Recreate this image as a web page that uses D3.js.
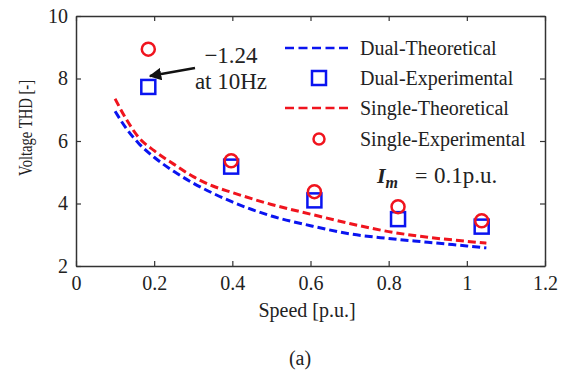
<!DOCTYPE html>
<html>
<head>
<meta charset="utf-8">
<script src="https://cdn.jsdelivr.net/npm/d3@7"></script>
<style>
  html, body { margin: 0; padding: 0; background: #fff; }
  svg { display: block; }
  text { font-family: "Liberation Serif", "Times New Roman", serif; fill: #222; }
</style>
</head>
<body>
<svg id="chart" width="569" height="371"></svg>
<script>
// ---- data ----
const xTicks = [0, 0.2, 0.4, 0.6, 0.8, 1, 1.2];
const yTicks = [2, 4, 6, 8, 10];
const speedTheory = [0.10, 0.13, 0.16, 0.2, 0.25, 0.3, 0.35, 0.4, 0.5, 0.6, 0.7, 0.8, 0.9, 1.0, 1.05];
const dualTheory = [6.95, 6.38, 5.93, 5.48, 5.03, 4.65, 4.33, 4.05, 3.60, 3.29, 3.03, 2.88, 2.76, 2.64, 2.58];
const singleTheory = [7.35, 6.67, 6.12, 5.69, 5.26, 4.86, 4.56, 4.35, 3.97, 3.66, 3.36, 3.10, 2.92, 2.79, 2.73];
const speedExp = [0.185, 0.397, 0.61, 0.824, 1.038];
const dualExp = [7.73, 5.18, 4.10, 3.50, 3.26];
const singleExp = [8.94, 5.37, 4.38, 3.90, 3.45];
const legendLabels = ["Dual-Theoretical", "Dual-Experimental", "Single-Theoretical", "Single-Experimental"];

const BLUE = "#0a14f0", RED = "#f0141e";
const svg = d3.select("#chart");
const L = 76, R = 545, T = 16, B = 266;
const x = d3.scaleLinear().domain([0, 1.2]).range([L, R]);
const y = d3.scaleLinear().domain([2, 10]).range([B, T]);

// frame + axes
const axisColor = "#333";
const gx = svg.append("g").attr("transform", `translate(0,${B})`)
  .call(d3.axisBottom(x).tickValues(xTicks).tickSizeInner(-5).tickSizeOuter(0).tickPadding(10)
    .tickFormat(d => d));
const gy = svg.append("g").attr("transform", `translate(${L},0)`)
  .call(d3.axisLeft(y).tickValues(yTicks).tickSizeInner(-5).tickSizeOuter(0).tickPadding(8));
const gx2 = svg.append("g").attr("transform", `translate(0,${T})`)
  .call(d3.axisTop(x).tickValues(xTicks).tickSizeInner(-5).tickSizeOuter(0).tickFormat(""));
const gy2 = svg.append("g").attr("transform", `translate(${R},0)`)
  .call(d3.axisRight(y).tickValues(yTicks).tickSizeInner(-5).tickSizeOuter(0).tickFormat(""));
[gx, gy, gx2, gy2].forEach(g => {
  g.select(".domain").attr("stroke", axisColor).attr("stroke-width", 1.5);
  g.selectAll(".tick line").attr("stroke", axisColor).attr("stroke-width", 1.2);
  g.selectAll(".tick text").attr("font-size", 20).attr("fill", "#222")
    .style("font-family", '"Liberation Serif", serif');
});

// theoretical curves
const line = d3.line().x(d => x(d[0])).y(d => y(d[1])).curve(d3.curveMonotoneX);
svg.append("path").datum(speedTheory.map((s, i) => [s, singleTheory[i]]))
  .attr("d", line).attr("fill", "none").attr("stroke", RED).attr("stroke-width", 3)
  .attr("stroke-dasharray", "8,4");
svg.append("path").datum(speedTheory.map((s, i) => [s, dualTheory[i]]))
  .attr("d", line).attr("fill", "none").attr("stroke", BLUE).attr("stroke-width", 3)
  .attr("stroke-dasharray", "8,4");

// experimental markers
svg.selectAll(".sq").data(speedExp.map((s, i) => [s, dualExp[i]])).enter().append("rect")
  .attr("x", d => x(d[0]) - 7).attr("y", d => y(d[1]) - 7).attr("width", 14).attr("height", 14)
  .attr("fill", "none").attr("stroke", BLUE).attr("stroke-width", 2.5);
svg.selectAll(".ci").data(speedExp.map((s, i) => [s, singleExp[i]])).enter().append("circle")
  .attr("cx", d => x(d[0])).attr("cy", d => y(d[1])).attr("r", 6.5)
  .attr("fill", "none").attr("stroke", RED).attr("stroke-width", 2.5);

// legend
const lg = svg.append("g");
const ly = [48, 78, 108, 139];
[0, 2].forEach(i => {
  lg.append("line").attr("x1", 285).attr("x2", 350).attr("y1", ly[i]).attr("y2", ly[i])
    .attr("stroke", i === 0 ? BLUE : RED).attr("stroke-width", 2.5).attr("stroke-dasharray", "9,4.5");
});
lg.append("rect").attr("x", 319 - 7).attr("y", ly[1] - 7).attr("width", 14).attr("height", 14)
  .attr("fill", "none").attr("stroke", BLUE).attr("stroke-width", 2.5);
lg.append("circle").attr("cx", 319).attr("cy", ly[3]).attr("r", 5.5)
  .attr("fill", "none").attr("stroke", RED).attr("stroke-width", 2.5);
legendLabels.forEach((t, i) => {
  lg.append("text").attr("x", 360).attr("y", ly[i] + 7).attr("font-size", 20).text(t);
});

// I_m annotation
const im = svg.append("text").attr("x", 377).attr("y", 183).attr("font-size", 22);
im.append("tspan").attr("font-weight", "bold").attr("font-style", "italic").text("I");
im.append("tspan").attr("font-weight", "bold").attr("font-style", "italic").attr("font-size", 16)
  .attr("dy", 5).text("m");
svg.append("text").attr("x", 415).attr("y", 183).attr("font-size", 22).text("=");
svg.append("text").attr("x", 434).attr("y", 183).attr("font-size", 23).text("0.1p.u.");

// arrow annotation
svg.append("defs").append("marker").attr("id", "ah").attr("viewBox", "0 0 10 10")
  .attr("refX", 9).attr("refY", 5).attr("markerWidth", 5).attr("markerHeight", 5)
  .attr("orient", "auto").append("path").attr("d", "M0,0L10,5L0,10z").attr("fill", "#111");
svg.append("line").attr("x1", 195).attr("y1", 68).attr("x2", 150).attr("y2", 76)
  .attr("stroke", "#111").attr("stroke-width", 2.5).attr("marker-end", "url(#ah)");
svg.append("text").attr("x", 231).attr("y", 63).attr("text-anchor", "middle").attr("font-size", 23).text("\u22121.24");
svg.append("text").attr("x", 231).attr("y", 89).attr("text-anchor", "middle").attr("font-size", 23).text("at 10Hz");

// axis titles
svg.append("text").attr("transform", "translate(32,128) rotate(-90)").attr("text-anchor", "middle")
  .attr("font-size", 18).attr("textLength", 96).attr("lengthAdjust", "spacingAndGlyphs")
  .text("Voltage THD [-]");
svg.append("text").attr("x", 307).attr("y", 317).attr("text-anchor", "middle").attr("font-size", 20)
  .text("Speed [p.u.]");
svg.append("text").attr("x", 300).attr("y", 365).attr("text-anchor", "middle").attr("font-size", 20)
  .text("(a)");
</script>
</body>
</html>
